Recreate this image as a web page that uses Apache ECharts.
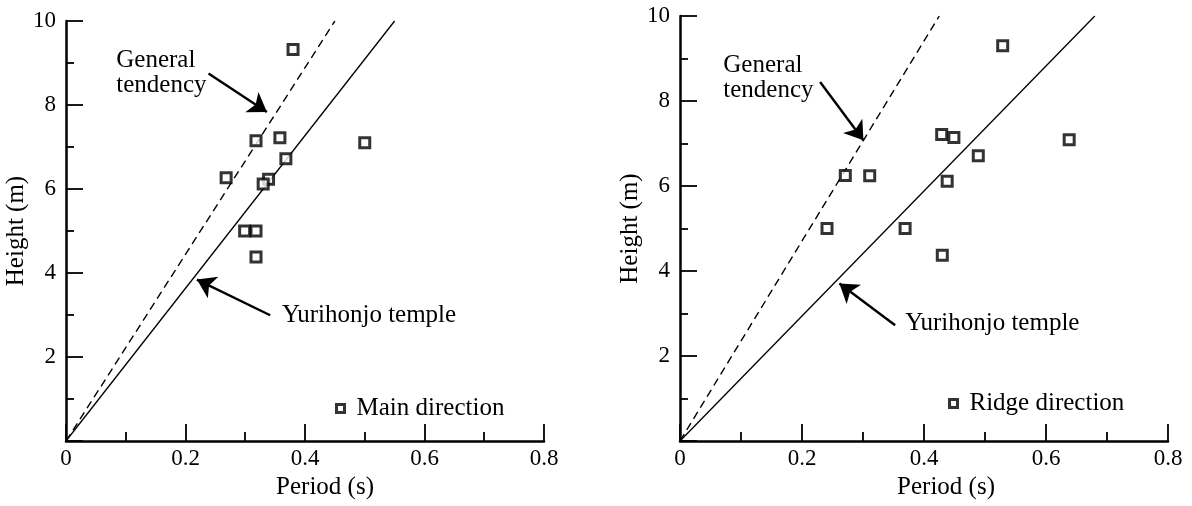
<!DOCTYPE html>
<html>
<head>
<meta charset="utf-8">
<script src="https://cdn.jsdelivr.net/npm/echarts@6/dist/echarts.min.js"></script>
<style>
html,body{margin:0;padding:0;background:#fff;}
#chart{width:1192px;height:506px;}
</style>
</head>
<body>
<div id="chart"></div>
<script>
// ---- data ----
const mainPeriod  = [0.380, 0.318, 0.358, 0.500, 0.368, 0.268, 0.339, 0.330, 0.299, 0.318, 0.318];
const mainHeight  = [9.32, 7.15, 7.22, 7.10, 6.72, 6.27, 6.23, 6.12, 5.00, 5.00, 4.38];
const ridgePeriod = [0.529, 0.638, 0.429, 0.449, 0.489, 0.271, 0.311, 0.438, 0.241, 0.369, 0.430];
const ridgeHeight = [9.30, 7.09, 7.21, 7.14, 6.71, 6.25, 6.24, 6.11, 5.00, 5.00, 4.37];

// reference lines (period, height) end points
const mainTempleLine   = [[0, 0], [0.55, 10]];
const mainGeneralLine  = [[0, 0], [0.45, 10]];
const ridgeTempleLine  = [[0, 0], [0.68, 10]];
const ridgeGeneralLine = [[0, 0], [0.425, 10]];

const xTicks = [0, 0.2, 0.4, 0.6, 0.8];
const yTicks = [0, 2, 4, 6, 8, 10];

const seriesNames = ['Main direction', 'Ridge direction'];
const xName = 'Period (s)';
const yName = 'Height (m)';

// annotations in data coordinates
const annoTexts = [
  {grid: 0, text: 'General\ntendency', at: [0.0841, 8.769]},
  {grid: 0, text: 'Yurihonjo temple', at: [0.3613, 2.995]},
  {grid: 1, text: 'General\ntendency', at: [0.0710, 8.536]},
  {grid: 1, text: 'Yurihonjo temple', at: [0.3691, 2.762]}
];
const annoArrows = [
  {grid: 0, from: [0.2385, 8.748], to: [0.3362, 7.833]},
  {grid: 0, from: [0.3417, 2.993], to: [0.2191, 3.843]},
  {grid: 1, from: [0.2297, 8.447], to: [0.3007, 7.075]},
  {grid: 1, from: [0.3527, 2.722], to: [0.2613, 3.704]}
];

// ---- chart ----
const FONT = '"Liberation Serif", "Times New Roman", serif';
const chart = echarts.init(document.getElementById('chart'), null, {renderer: 'canvas'});

function zip(a, b) { return a.map((v, i) => [v, b[i]]); }

function xAxisCfg(g, pad) {
  return {
    type: 'value', gridIndex: g,
    min: xTicks[0], max: xTicks[xTicks.length - 1], interval: xTicks[1] - xTicks[0],
    name: xName, nameLocation: 'middle', nameGap: 33,
    nameTextStyle: {fontFamily: FONT, fontSize: 25, color: '#000', padding: [0, 0, 0, pad]},
    axisLine: {show: true, onZero: false, lineStyle: {color: '#000', width: 2.5}},
    axisTick: {show: true, inside: true, length: 17, lineStyle: {color: '#000', width: 1.8}},
    minorTick: {show: true, splitNumber: 2, length: 9, lineStyle: {color: '#000', width: 1.8}},
    splitLine: {show: false}, minorSplitLine: {show: false},
    axisLabel: {color: '#000', fontFamily: FONT, fontSize: 23, margin: 6,
      formatter: v => (Math.abs(v) < 1e-9 ? '0' : (Math.round(v * 10) / 10).toFixed(1))}
  };
}
function yAxisCfg(g, gap) {
  return {
    type: 'value', gridIndex: g,
    min: yTicks[0], max: yTicks[yTicks.length - 1], interval: yTicks[1] - yTicks[0],
    name: yName, nameLocation: 'middle', nameRotate: 90, nameGap: gap,
    nameTextStyle: {fontFamily: FONT, fontSize: 25, color: '#000'},
    axisLine: {show: true, onZero: false, lineStyle: {color: '#000', width: 2.5}},
    axisTick: {show: true, inside: true, length: 17, lineStyle: {color: '#000', width: 1.8}},
    minorTick: {show: true, splitNumber: 2, length: 8, lineStyle: {color: '#000', width: 1.8}},
    splitLine: {show: false}, minorSplitLine: {show: false},
    axisLabel: {color: '#000', fontFamily: FONT, fontSize: 23, margin: 10,
      formatter: v => (v === 0 ? '' : String(v))}
  };
}

const markerStyle = {color: '#fff', borderColor: '#000', borderWidth: 3};

function arrowSeries(g) {
  return {
    type: 'line', xAxisIndex: g, yAxisIndex: g, data: [], silent: true,
    markLine: {
      silent: true, animation: false,
      symbol: ['none', 'arrow'], symbolSize: 18,
      label: {show: false},
      lineStyle: {color: '#000', width: 2.4, type: 'solid'},
      emphasis: {disabled: true},
      data: annoArrows.filter(a => a.grid === g).map(a => [{coord: a.from}, {coord: a.to}])
    }
  };
}

const legendBase = {
  orient: 'horizontal', selectedMode: false, itemWidth: 8, itemHeight: 8,
  itemStyle: {color: '#fff', borderColor: '#000', borderWidth: 3},
  textStyle: {fontFamily: FONT, fontSize: 25, color: '#000', padding: [0, 0, 0, 7]}
};

const option = {
  animation: false,
  backgroundColor: '#fff',
  grid: [
    {left: 66, top: 21, width: 478, height: 420, containLabel: false},
    {left: 680, top: 16, width: 488, height: 425, containLabel: false}
  ],
  xAxis: [xAxisCfg(0, 40), xAxisCfg(1, 44)],
  yAxis: [yAxisCfg(0, 32), yAxisCfg(1, 34)],
  legend: [
    Object.assign({data: [seriesNames[0]], left: 330, top: 391}, legendBase),
    Object.assign({data: [seriesNames[1]], left: 943, top: 386}, legendBase)
  ],
  series: [
    {type: 'line', xAxisIndex: 0, yAxisIndex: 0, data: mainTempleLine, showSymbol: false, silent: true,
     lineStyle: {color: '#000', width: 1.3}},
    {type: 'line', xAxisIndex: 0, yAxisIndex: 0, data: mainGeneralLine, showSymbol: false, silent: true,
     lineStyle: {color: '#000', width: 1.4, type: [8, 5]}},
    {type: 'line', xAxisIndex: 1, yAxisIndex: 1, data: ridgeTempleLine, showSymbol: false, silent: true,
     lineStyle: {color: '#000', width: 1.3}},
    {type: 'line', xAxisIndex: 1, yAxisIndex: 1, data: ridgeGeneralLine, showSymbol: false, silent: true,
     lineStyle: {color: '#000', width: 1.4, type: [8, 5]}},
    arrowSeries(0),
    arrowSeries(1),
    {name: seriesNames[0], type: 'scatter', xAxisIndex: 0, yAxisIndex: 0, data: zip(mainPeriod, mainHeight),
     symbol: 'rect', symbolSize: 10, itemStyle: markerStyle, z: 5},
    {name: seriesNames[1], type: 'scatter', xAxisIndex: 1, yAxisIndex: 1, data: zip(ridgePeriod, ridgeHeight),
     symbol: 'rect', symbolSize: 10, itemStyle: markerStyle, z: 5}
  ]
};
chart.setOption(option);

const graphics = annoTexts.map(a => {
  const p = chart.convertToPixel({gridIndex: a.grid}, a.at);
  return {
    type: 'text', x: p[0], y: p[1], silent: true,
    style: {text: a.text, fontFamily: FONT, fontSize: 25, lineHeight: 25, fill: '#000',
            align: 'left', verticalAlign: 'middle'}
  };
});
chart.setOption({graphic: graphics});
</script>
</body>
</html>
